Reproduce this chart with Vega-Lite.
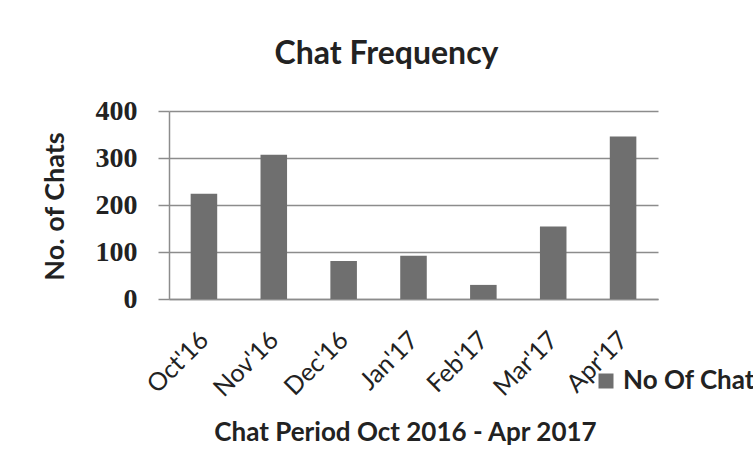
{
  "$schema": "https://vega.github.io/schema/vega-lite/v6.json",
  "autosize": {"type": "none"},
  "padding": {"left": 169, "top": 111, "right": 95, "bottom": 153},
  "width": 489,
  "height": 188,
  "background": "#ffffff",
  "title": {
    "text": "Chat Frequency",
    "font": "Lato",
    "fontSize": 32,
    "fontWeight": "bold",
    "color": "#222222",
    "anchor": "middle",
    "baseline": "alphabetic",
    "dx": -27,
    "offset": 1
  },
  "data": {
    "values": [
      {"period": "Oct'16", "chats": 224, "series": "No Of Chats"},
      {"period": "Nov'16", "chats": 307, "series": "No Of Chats"},
      {"period": "Dec'16", "chats": 81, "series": "No Of Chats"},
      {"period": "Jan'17", "chats": 92, "series": "No Of Chats"},
      {"period": "Feb'17", "chats": 30, "series": "No Of Chats"},
      {"period": "Mar'17", "chats": 154, "series": "No Of Chats"},
      {"period": "Apr'17", "chats": 346, "series": "No Of Chats"}
    ]
  },
  "mark": {"type": "bar"},
  "encoding": {
    "x": {
      "field": "period",
      "type": "nominal",
      "sort": null,
      "scale": {"paddingInner": 0.62, "paddingOuter": 0.31},
      "axis": {
        "title": "Chat Period Oct 2016 - Apr 2017",
        "titleFont": "Lato",
        "titleFontSize": 26,
        "titleFontWeight": "bold",
        "titleColor": "#222222",
        "titleX": 236,
        "titleY": 141,
        "titleAlign": "center",
        "titleBaseline": "alphabetic",
        "labelFont": "Lato",
        "labelFontSize": 25,
        "labelFontWeight": "normal",
        "labelColor": "#222222",
        "labelAngle": -45,
        "labelAlign": "right",
        "labelBaseline": "top",
        "labelOffset": -8,
        "labelPadding": 28,
        "ticks": false,
        "tickSize": 0,
        "domainColor": "#8c8c8c",
        "domainWidth": 1.5
      }
    },
    "y": {
      "field": "chats",
      "type": "quantitative",
      "scale": {"domain": [0, 400], "nice": false},
      "axis": {
        "title": "No. of Chats",
        "titleFont": "Lato",
        "titleFontSize": 27,
        "titleFontWeight": "bold",
        "titleColor": "#222222",
        "titleX": -106,
        "titleY": 95,
        "titleAlign": "center",
        "titleBaseline": "alphabetic",
        "values": [0, 100, 200, 300, 400],
        "labelFont": "Liberation Serif",
        "labelFontSize": 28,
        "labelFontWeight": "bold",
        "labelColor": "#222222",
        "labelPadding": 21,
        "tickSize": 11,
        "tickColor": "#8c8c8c",
        "tickWidth": 1.5,
        "grid": true,
        "gridColor": "#8c8c8c",
        "gridWidth": 1.5,
        "domainColor": "#8c8c8c",
        "domainWidth": 1.5
      }
    },
    "color": {
      "field": "series",
      "type": "nominal",
      "scale": {"range": ["#6f6f6f"]},
      "legend": {
        "title": null,
        "orient": "none",
        "legendX": 424,
        "legendY": 257,
        "padding": 0,
        "symbolType": "square",
        "symbolSize": 225,
        "symbolStrokeWidth": 0,
        "labelFont": "Lato",
        "labelFontSize": 26,
        "labelFontWeight": "bold",
        "labelColor": "#222222",
        "labelOffset": 4,
        "labelLimit": 0
      }
    }
  },
  "config": {
    "view": {"stroke": null}
  }
}
